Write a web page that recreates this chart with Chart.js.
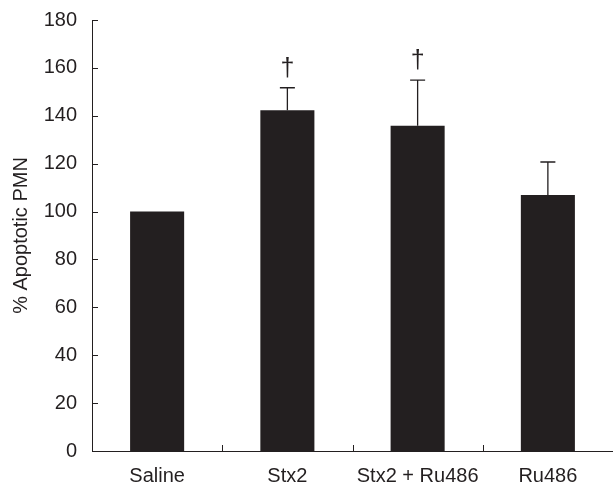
<!DOCTYPE html>
<html>
<head>
<meta charset="utf-8">
<script src="https://cdn.jsdelivr.net/npm/chart.js@4/dist/chart.umd.min.js"></script>
<style>
    html, body { margin: 0; padding: 0; background: #fff; overflow: hidden; }
    #wrap { width: 613px; height: 488px; }
</style>
</head>
<body>
<div id="wrap"><canvas id="apoptosis"></canvas></div>
<script>
// -------- DATA --------
const categories = ["Saline", "Stx2", "Stx2 + Ru486", "Ru486"];
const meanValues = [100, 142.3, 135.8, 106.9];
const errorUp = [0, 9.4, 19.1, 13.8];
const markers = ["", "\u2020", "\u2020", ""];
const yMin = 0;
const yMax = 180;
const yStep = 20;

const ink = "#231f20";
const font = "'Liberation Sans', Arial, Helvetica, sans-serif";

// -------- ERROR BARS, DAGGERS, INNER TICKS --------
const extras = {
    id: "extras",
    afterDatasetsDraw(chart) {
        const ctx = chart.ctx;
        const x = chart.scales.x;
        const y = chart.scales.y;
        const area = chart.chartArea;
        const bars = chart.getDatasetMeta(0).data;

        ctx.save();
        ctx.strokeStyle = ink;
        ctx.lineWidth = 1.3;

        // error bars (upper only)
        bars.forEach((bar, i) => {
            if (!errorUp[i]) return;
            const top = y.getPixelForValue(meanValues[i] + errorUp[i]);
            ctx.beginPath();
            ctx.moveTo(bar.x, bar.y);
            ctx.lineTo(bar.x, top);
            ctx.moveTo(bar.x - 7.5, top);
            ctx.lineTo(bar.x + 7.5, top);
            ctx.stroke();
        });

        // daggers
        ctx.fillStyle = ink;
        ctx.font = "25px " + font;
        ctx.textAlign = "center";
        ctx.textBaseline = "middle";
        bars.forEach((bar, i) => {
            if (!markers[i]) return;
            const top = y.getPixelForValue(meanValues[i] + errorUp[i]);
            ctx.fillText(markers[i], bar.x, top - 19);
        });

        // y ticks pointing inward
        ctx.lineWidth = 1;
        y.ticks.forEach(t => {
            const py = Math.round(y.getPixelForValue(t.value)) + 0.5;
            ctx.beginPath();
            ctx.moveTo(area.left, py);
            ctx.lineTo(area.left + 6, py);
            ctx.stroke();
        });

        // x ticks at category boundaries pointing up
        for (let i = 1; i < categories.length; i++) {
            const px = Math.round((x.getPixelForValue(i - 1) + x.getPixelForValue(i)) / 2) + 0.5;
            ctx.beginPath();
            ctx.moveTo(px, area.bottom);
            ctx.lineTo(px, area.bottom - 6);
            ctx.stroke();
        }
        ctx.restore();
    }
};

// -------- CHART --------
new Chart(document.getElementById("apoptosis"), {
    type: "bar",
    data: {
        labels: categories,
        datasets: [{
            data: meanValues,
            backgroundColor: ink,
            borderWidth: 0,
            categoryPercentage: 1,
            barPercentage: 0.415
        }]
    },
    options: {
        responsive: true,
        maintainAspectRatio: false,
        animation: false,
        layout: { padding: { top: 20, right: 0, left: 0, bottom: 0 } },
        plugins: {
            legend: { display: false },
            tooltip: { enabled: false }
        },
        scales: {
            x: {
                afterFit(scale) {
                    scale.height = 37;
                    scale.paddingLeft = 0;
                    scale.paddingRight = 0;
                },
                grid: { display: false, drawTicks: false },
                border: { display: true, color: ink, width: 1 },
                ticks: {
                    color: ink,
                    padding: 13,
                    maxRotation: 0,
                    font: { family: font, size: 20 }
                }
            },
            y: {
                min: yMin,
                max: yMax,
                afterFit(scale) {
                    scale.width = 92;
                    scale.paddingTop = 0;
                    scale.paddingBottom = 0;
                },
                grid: { display: false, drawTicks: false },
                border: { display: true, color: ink, width: 1 },
                ticks: {
                    stepSize: yStep,
                    color: ink,
                    padding: 15,
                    font: { family: font, size: 20 }
                },
                title: {
                    display: true,
                    text: "% Apoptotic PMN",
                    color: ink,
                    padding: { top: 9, bottom: 0 },
                    font: { family: font, size: 20 }
                }
            }
        }
    },
    plugins: [extras]
});
</script>
</body>
</html>
